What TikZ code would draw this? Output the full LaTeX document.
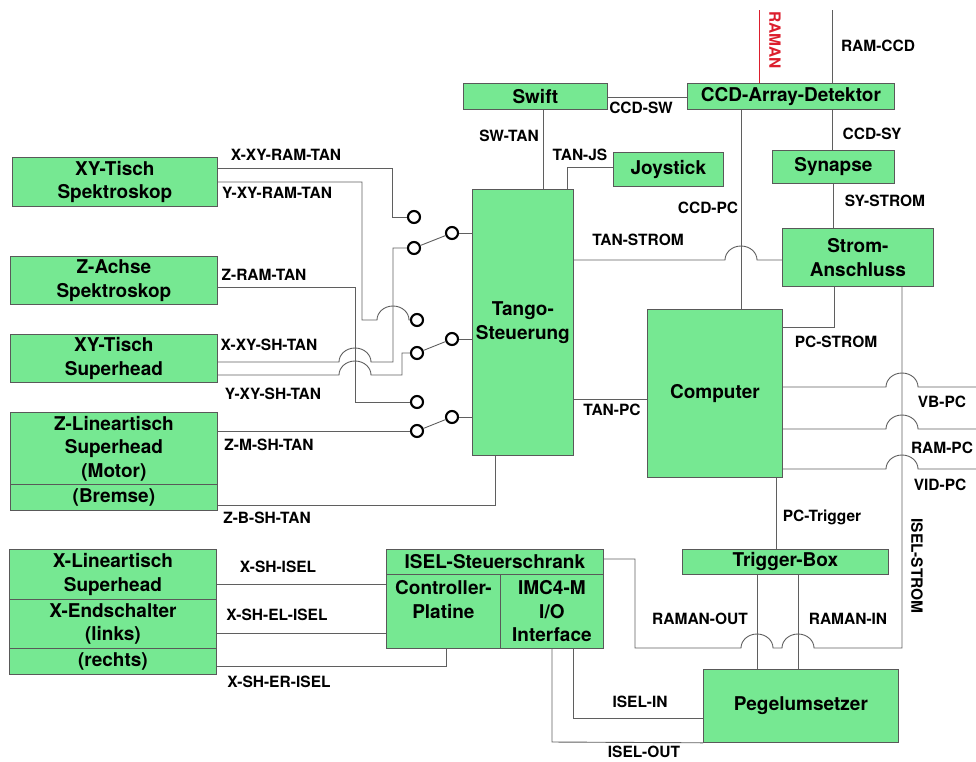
\documentclass[tikz,border=0pt]{standalone}
\usepackage{fontspec}
\setmainfont{TeX Gyre Heros}
\definecolor{boxgreen}{RGB}{118,232,146}
\definecolor{wirecol}{RGB}{95,95,95}
\definecolor{ramanred}{RGB}{220,30,45}
\newcommand\boxfont{\fontsize{19}{23.5}\selectfont\bfseries}
\newcommand\lblfont{\fontsize{15.5}{18}\selectfont\bfseries}
\tikzset{
  box/.style={draw=black!65, line width=0.8pt, fill=boxgreen, inner sep=0pt, align=center, font=\boxfont, anchor=north west},
  lbl/.style={inner sep=0pt, font=\lblfont},
  wire/.style={draw=wirecol, line width=0.9pt},
  contact/.style={circle, draw=black, line width=2.1pt, fill=white, minimum size=12pt, inner sep=0pt},
}
\begin{document}
\begin{tikzpicture}[x=1pt,y=-1pt]
\useasboundingbox (0,0) rectangle (976,761);
% ---------- boxes ----------
\node[box, minimum width=205pt, minimum height=49pt] (xyspek) at (12,157) {XY-Tisch\\Spektroskop};
\node[box, minimum width=207pt, minimum height=48pt] (zspek) at (10,256) {Z-Achse\\Spektroskop};
\node[box, minimum width=207pt, minimum height=48pt] (xysh) at (10,334) {XY-Tisch\\Superhead};
\node[box, minimum width=207pt, minimum height=72pt] (zmotor) at (10,412) {Z-Lineartisch\\Superhead\\(Motor)};
\node[box, minimum width=207pt, minimum height=26pt] (zbremse) at (10,484) {(Bremse)};
\node[box, minimum width=101pt, minimum height=266pt] (tango) at (472,189) {Tango-\\Steuerung};
\node[box, minimum width=144pt, minimum height=26pt] (swift) at (463,83) {Swift};
\node[box, minimum width=207pt, minimum height=26pt] (ccd) at (687,83) {CCD-Array-Detektor};
\node[box, minimum width=110pt, minimum height=34pt] (joy) at (613,152) {Joystick};
\node[box, minimum width=122pt, minimum height=33pt] (syn) at (772,150) {Synapse};
\node[box, minimum width=151pt, minimum height=58pt] (strom) at (782,228) {Strom-\\Anschluss};
\node[box, minimum width=135pt, minimum height=168pt] (pc) at (647,309) {Computer};
\node[box, minimum width=206pt, minimum height=25pt] (trig) at (682,549) {Trigger-Box};
\node[box, minimum width=195pt, minimum height=73pt] (pegel) at (703,669) {Pegelumsetzer};
\node[box, minimum width=207pt, minimum height=50pt] (xlin) at (9,549) {X-Lineartisch\\Superhead};
\node[box, minimum width=207pt, minimum height=49pt] (xel) at (9,599) {X-Endschalter\\(links)};
\node[box, minimum width=207pt, minimum height=26pt] (xer) at (9,648) {(rechts)};
\node[box, minimum width=217pt, minimum height=25pt] (isel) at (386,549) {ISEL-Steuerschrank};
\node[box, minimum width=114pt, minimum height=74pt] (ctrl) at (386,574) {Controller-\\Platine\\\phantom{P}};
\node[box, minimum width=103pt, minimum height=74pt] (imc) at (500,574) {IMC4-M\\I/O\\Interface};
% ---------- switch contacts ----------
\node[contact] (s1a) at (414,217) {};
\node[contact] (s1b) at (414,248) {};
\node[contact] (s1p) at (452,233) {};
\node[contact] (s2a) at (417,320) {};
\node[contact] (s2b) at (417,353) {};
\node[contact] (s2p) at (452,339) {};
\node[contact] (s3a) at (417,402) {};
\node[contact] (s3b) at (417,431) {};
\node[contact] (s3p) at (452,417) {};
% ---------- free ends ----------
\coordinate (ramtop) at (759,10);
\coordinate (ramccdtop) at (832,10);
\coordinate (vbend) at (976,387);
\coordinate (ramend) at (976,429);
\coordinate (vidend) at (976,469);
% ---------- left wiring ----------
\draw[wire] (xyspek.east |- 0,168) -- (392,168) -- (392,217) -- (s1a);
\draw[wire] (xyspek.east |- 0,182) -- (362,182) -- (362,320) -- (377,320)
   arc[start angle=180,end angle=0,x radius=16pt,y radius=14pt] -- (s2a);
\draw[wire] (zspek.east |- 0,287) -- (355,287) -- (355,402) -- (s3a);
\draw[wire] (xysh.east |- 0,362) -- (339,362)
   arc[start angle=180,end angle=0,x radius=16pt,y radius=14pt] -- (393,362) -- (393,248) -- (s1b);
\draw[wire] (xysh.east |- 0,375) -- (339,375)
   arc[start angle=180,end angle=0,x radius=16pt,y radius=14pt] -- (402,375) -- (402,353) -- (s2b);
\draw[wire] (zmotor.east |- 0,431) -- (s3b);
\draw[wire] (zbremse.east |- 0,505) -- (495,505) -- (tango.south -| 495,0);
\foreach \s in {1,2,3}{
  \draw[wire] (s\s b) -- (s\s p);
  \draw[wire] (s\s p) -- (s\s p -| tango.west);
}
% ---------- top wiring ----------
\draw[wire] (swift.south -| 543,0) -- (tango.north -| 543,0);
\draw[wire] (tango.north -| 567,0) -- (567,167) -- (joy.west |- 0,167);
\draw[wire] (swift.east |- 0,97) -- (ccd.west |- 0,97);
\draw[ramanred, line width=0.9pt] (ramtop) -- (ccd.north -| ramtop);
\draw[wire] (ramccdtop) -- (ccd.north -| ramccdtop);
\draw[wire] (ccd.south -| 832,0) -- (syn.north -| 832,0);
\draw[wire] (syn.south -| 833,0) -- (strom.north -| 833,0);
\draw[wire] (ccd.south -| 741,0) -- (pc.north -| 741,0);
\draw[wire] (tango.east |- 0,260) -- (725,260)
   arc[start angle=180,end angle=0,x radius=16pt,y radius=14pt] -- (strom.west |- 0,260);
\draw[wire] (strom.south -| 834,0) -- (834,327) -- (pc.east |- 0,327);
\draw[wire] (tango.east |- 0,399) -- (pc.west |- 0,399);
\draw[wire] (pc.east |- 0,387) -- (886,387)
   arc[start angle=180,end angle=0,x radius=16pt,y radius=14pt] -- (vbend);
\draw[wire] (pc.east |- 0,429) -- (886,429)
   arc[start angle=180,end angle=0,x radius=16pt,y radius=14pt] -- (ramend);
\draw[wire] (pc.east |- 0,469) -- (886,469)
   arc[start angle=180,end angle=0,x radius=16pt,y radius=14pt] -- (vidend);
\draw[wire] (pc.south -| 776,0) -- (trig.north -| 776,0);
\draw[wire] (trig.south -| 757,0) -- (pegel.north -| 757,0);
\draw[wire] (trig.south -| 798,0) -- (pegel.north -| 798,0);
\draw[wire] (isel.east |- 0,559) -- (635,559) -- (635,648) -- (741,648)
   arc[start angle=180,end angle=0,x radius=16pt,y radius=14pt] -- (782,648)
   arc[start angle=180,end angle=0,x radius=16pt,y radius=14pt] -- (902,648)
   -- (strom.south -| 902,0);
% ---------- bottom wiring ----------
\draw[wire] (xlin.east |- 0,584) -- (ctrl.west |- 0,584);
\draw[wire] (xel.east |- 0,633) -- (ctrl.west |- 0,633);
\draw[wire] (xer.east |- 0,666) -- (446,666) -- (ctrl.south -| 446,0);
\draw[wire] (imc.south -| 573,0) -- (573,718) -- (pegel.west |- 0,718);
\draw[wire] (imc.south -| 552,0) -- (552,742) -- (pegel.south west);
% ---------- labels ----------
\node[lbl] (l1) at (286,155) {X-XY-RAM-TAN};
\node[lbl] (l2) at (277,193) {Y-XY-RAM-TAN};
\node[lbl] (l3) at (264,275) {Z-RAM-TAN};
\node[lbl] (l4) at (269,345) {X-XY-SH-TAN};
\node[lbl] (l5) at (273,394) {Y-XY-SH-TAN};
\node[lbl] (l6) at (269,445) {Z-M-SH-TAN};
\node[lbl] (l7) at (267,518) {Z-B-SH-TAN};
\node[lbl] (l8) at (509,136) {SW-TAN};
\node[lbl] (l9) at (580,155) {TAN-JS};
\node[lbl] (l10) at (641,108) {CCD-SW};
\node[lbl, text=ramanred, rotate=-90] (l11) at (775,40) {RAMAN};
\node[lbl] (l12) at (878,46) {RAM-CCD};
\node[lbl] (l13) at (872,134) {CCD-SY};
\node[lbl] (l14) at (885,201) {SY-STROM};
\node[lbl] (l15) at (708,208) {CCD-PC};
\node[lbl] (l16) at (638,240) {TAN-STROM};
\node[lbl] (l17) at (836,342) {PC-STROM};
\node[lbl] (l18) at (612,410) {TAN-PC};
\node[lbl] (l19) at (942,402) {VB-PC};
\node[lbl] (l20) at (942,448) {RAM-PC};
\node[lbl] (l21) at (940,485) {VID-PC};
\node[lbl] (l22) at (822,517) {PC-Trigger};
\node[lbl, rotate=-90] (l23) at (917,566) {ISEL-STROM};
\node[lbl] (l24) at (700,619) {RAMAN-OUT};
\node[lbl] (l25) at (848,619) {RAMAN-IN};
\node[lbl] (l26) at (278,567) {X-SH-ISEL};
\node[lbl] (l27) at (277,615) {X-SH-EL-ISEL};
\node[lbl] (l28) at (279,682) {X-SH-ER-ISEL};
\node[lbl] (l29) at (640,702) {ISEL-IN};
\node[lbl] (l30) at (644,752) {ISEL-OUT};
\end{tikzpicture}
\end{document}
